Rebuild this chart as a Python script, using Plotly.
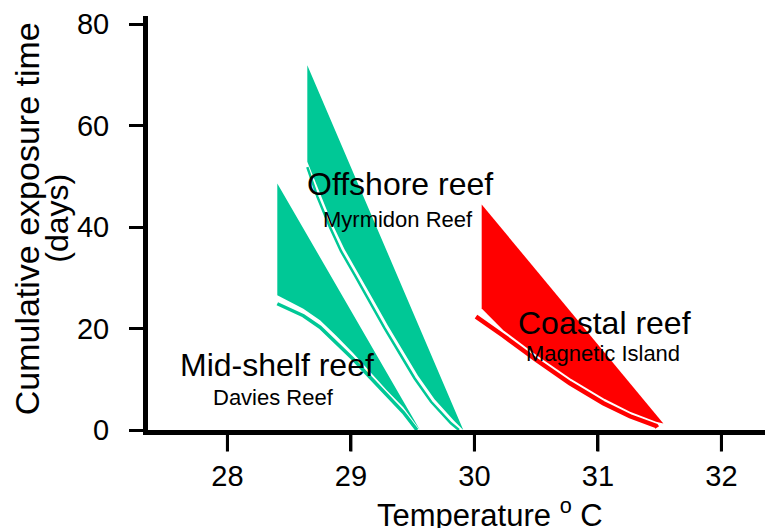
import plotly.graph_objects as go

# ---- data ----
x_ticks = [28, 29, 30, 31, 32]
y_ticks = [0, 20, 40, 60, 80]

# Mid-shelf reef (Davies Reef)
davies_upper_x = [28.404, 29.559]
davies_upper_y = [48.6, 0.0]
davies_fill_x = [28.404, 28.615, 28.750, 28.885, 29.019, 29.155, 29.290, 29.424, 29.559]
davies_fill_y = [26.57, 23.91, 21.64, 18.48, 15.13, 11.48, 7.83, 4.48, 0.0]
davies_band_x = [28.404, 28.615, 28.750, 28.885, 29.019, 29.155, 29.290, 29.424, 29.535]
davies_band_y = [24.89, 22.52, 20.26, 17.20, 13.94, 10.39, 6.84, 3.49, 0.0]

# Offshore reef (Myrmidon Reef)
myrm_upper_x = [28.647, 29.910]
myrm_upper_y = [71.9, 0.0]
myrm_fill_x = [28.647, 28.750, 28.851, 28.948, 29.057, 29.179, 29.300, 29.422, 29.543, 29.677, 29.835, 29.910]
myrm_fill_y = [52.86, 46.69, 40.57, 35.64, 31.01, 25.78, 20.55, 15.62, 10.69, 6.06, 1.81, 0.0]
myrm_band_x = [28.647, 28.730, 28.827, 28.920, 29.029, 29.151, 29.272, 29.394, 29.515, 29.649, 29.810, 29.875]
myrm_band_y = [51.81, 45.90, 40.18, 35.25, 30.61, 25.38, 20.06, 15.13, 10.20, 5.56, 1.32, 0.0]

# Coastal reef (Magnetic Island)
magn_upper_x = [30.059, 31.530]
magn_upper_y = [44.46, 1.26]
magn_fill_x = [30.059, 30.234, 30.504, 30.774, 31.044, 31.260, 31.471, 31.530]
magn_fill_y = [23.94, 19.66, 14.73, 10.18, 6.25, 3.59, 1.62, 1.26]
magn_band_x = [30.013, 30.126, 30.234, 30.504, 30.774, 31.044, 31.260, 31.471, 31.480]
magn_band_y = [22.33, 20.45, 18.58, 13.75, 9.21, 5.27, 2.70, 0.83, 0.5]

GREEN = "rgb(0,200,150)"
RED = "rgb(255,0,0)"
FONT = "Liberation Sans, Arial, Helvetica, sans-serif"
X_RANGE = [27.357, 32.353]

fig = go.Figure()


def add_reef(ux, uy, fx, fy, bx, by, color, band_w):
    poly_x = list(ux) + list(fx[::-1])
    poly_y = list(uy) + list(fy[::-1])
    fig.add_trace(go.Scatter(x=poly_x, y=poly_y, mode="lines", fill="toself",
                             fillcolor=color, line=dict(width=0, color=color),
                             hoverinfo="skip", showlegend=False))
    fig.add_trace(go.Scatter(x=bx, y=by, mode="lines",
                             line=dict(width=band_w, color=color),
                             hoverinfo="skip", showlegend=False))


add_reef(davies_upper_x, davies_upper_y, davies_fill_x, davies_fill_y,
         davies_band_x, davies_band_y, GREEN, 3.5)
add_reef(myrm_upper_x, myrm_upper_y, myrm_fill_x, myrm_fill_y,
         myrm_band_x, myrm_band_y, GREEN, 2.5)
add_reef(magn_upper_x, magn_upper_y, magn_fill_x, magn_fill_y,
         magn_band_x, magn_band_y, RED, 4.5)

labels = [
    ("Offshore reef", 29.397, 48.46, 32),
    ("Myrmidon Reef", 29.381, 41.56, 22),
    ("Mid-shelf reef", 28.398, 12.86, 32),
    ("Davies Reef", 28.377, 6.35, 22),
    ("Coastal reef", 31.057, 21.05, 32),
    ("Magnetic Island", 31.045, 14.99, 22),
]
for txt, x, y, s in labels:
    fig.add_annotation(text=txt, x=x, y=y, xref="x", yref="y", showarrow=False,
                       xanchor="center", yanchor="middle",
                       font=dict(family=FONT, size=s, color="black"))

# axis titles (placed as annotations to match the reference offsets)
fig.add_annotation(text="Temperature <sup>o</sup> C", x=0.554, y=-0.200,
                   xref="paper", yref="paper", showarrow=False,
                   xanchor="center", yanchor="middle",
                   font=dict(family=FONT, size=31, color="black"))
fig.add_annotation(text="Cumulative exposure time", x=-0.197, y=0.510,
                   xref="paper", yref="paper", showarrow=False, textangle=-90,
                   xanchor="center", yanchor="middle",
                   font=dict(family=FONT, size=34, color="black"))
fig.add_annotation(text="(days)", x=-0.148, y=0.512,
                   xref="paper", yref="paper", showarrow=False, textangle=-90,
                   xanchor="center", yanchor="middle",
                   font=dict(family=FONT, size=32, color="black"))

# x tick marks below the axis line, one per tick value
for t in x_ticks:
    fig.add_shape(type="line", xref="x", yref="paper", x0=t, x1=t,
                  y0=0, y1=-0.052, layer="above",
                  line=dict(color="black", width=3))

fig.update_layout(
    width=765, height=528,
    margin=dict(l=148, r=0, t=16, b=98),
    paper_bgcolor="white", plot_bgcolor="white",
    font=dict(family=FONT, color="black"),
    xaxis=dict(range=X_RANGE, showline=True, linecolor="black", linewidth=5,
               ticks="outside", ticklen=16, tickwidth=3, tickcolor="black",
               tickvals=x_ticks, showgrid=False, zeroline=False,
               tickfont=dict(family=FONT, size=29, color="black")),
    yaxis=dict(range=[0, 81.6], showline=True, linecolor="black", linewidth=5,
               ticks="outside", ticklen=14, tickwidth=3, tickcolor="black",
               tickvals=y_ticks, showgrid=False, zeroline=False,
               tickfont=dict(family=FONT, size=29, color="black"),
               ticklabelstandoff=14),
)

fig.write_html("out.html")
